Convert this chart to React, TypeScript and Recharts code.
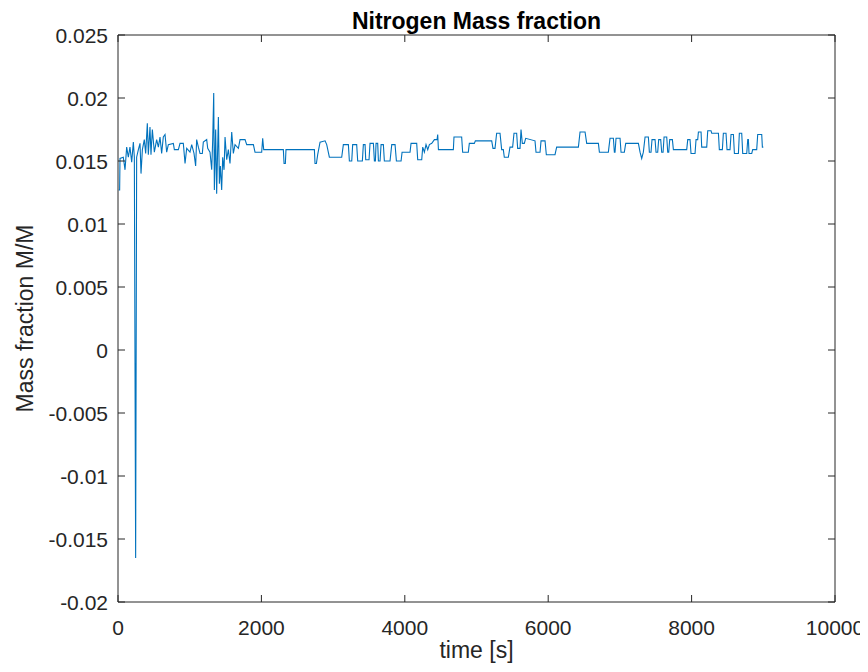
import React from "react";
import { LineChart, Line, XAxis, YAxis, Label } from "recharts";

const title = "Nitrogen Mass fraction";
const xLabel = "time [s]";
const yLabel = "Mass fraction M/M";

const xTicks = [0, 2000, 4000, 6000, 8000, 10000];
const xTickLabels = ["0", "2000", "4000", "6000", "8000", "10000"];
const yTicks = [-0.02, -0.015, -0.01, -0.005, 0, 0.005, 0.01, 0.015, 0.02, 0.025];
const yTickLabels = ["-0.02", "-0.015", "-0.01", "-0.005", "0", "0.005", "0.01", "0.015", "0.02", "0.025"];

const timeS = [
  10, 23, 28, 74, 98, 121, 144, 167, 191, 214, 228, 246, 260, 284, 307, 321, 340, 367, 386, 409,
  423, 446, 460, 479, 507, 539, 563, 586, 609, 632, 656, 679, 702, 772, 786, 842, 865, 911, 935, 958,
  1004, 1028, 1060, 1083, 1097, 1121, 1144, 1176, 1190, 1237, 1251, 1283, 1307, 1321, 1335, 1344, 1362, 1376, 1400, 1414,
  1428, 1446, 1460, 1479, 1493, 1516, 1539, 1562, 1586, 1609, 1632, 1679, 1702, 1772, 1795, 1888, 1911, 2004, 2018, 2032,
  2306, 2316, 2334, 2343, 2739, 2748, 2767, 2785, 2818, 2888, 2911, 2948, 3120, 3143, 3213, 3227, 3260, 3273, 3329, 3343,
  3408, 3422, 3446, 3455, 3501, 3515, 3562, 3576, 3590, 3599, 3622, 3632, 3655, 3669, 3701, 3715, 3794, 3818, 3864, 3883,
  3948, 3962, 4073, 4087, 4166, 4180, 4236, 4250, 4273, 4296, 4320, 4343, 4376, 4413, 4450, 4459, 4469,
  4677, 4686, 4793, 4807, 4886, 4900, 4970, 4984, 5212, 5230, 5258, 5281, 5328, 5351, 5374, 5388, 5444, 5467, 5504, 5523,
  5560, 5574, 5607, 5621, 5639, 5667, 5686, 5816, 5830, 5886, 5900, 5956, 5974, 6095, 6118, 6421, 6444, 6514, 6537, 6700, 6714,
  6839, 6862, 6909, 6923, 6932, 6946, 7002, 7016, 7062, 7081, 7258, 7281, 7304, 7327, 7351, 7397, 7411, 7434, 7448, 7490,
  7504, 7527, 7541, 7569, 7583, 7602, 7616, 7653, 7667, 7681, 7695, 7732, 7746, 7932, 7946, 7978, 7992, 8048, 8062, 8085,
  8095, 8132, 8141, 8211, 8225, 8271, 8281, 8374, 8387, 8429, 8443, 8480, 8494, 8536, 8550, 8583, 8597, 8653, 8666, 8699,
  8713, 8769, 8783, 8792, 8801, 8839, 8852, 8908, 8922, 8978, 8987, 9000,
];

const massFraction = [
  0.0127, 0.0127, 0.0152, 0.0153, 0.0143, 0.0161, 0.0153, 0.0161, 0.0149, 0.0165, 0.0153, -0.0165, 0.0153, 0.0159, 0.0164, 0.014, 0.0159, 0.0167, 0.0156, 0.018,
  0.0155, 0.0177, 0.0155, 0.0175, 0.0157, 0.0167, 0.0161, 0.0169, 0.0156, 0.0169, 0.0171, 0.0157, 0.0163, 0.0164, 0.0159, 0.0159, 0.0164, 0.0164, 0.0148, 0.016,
  0.0157, 0.0163, 0.0156, 0.0146, 0.0167, 0.0161, 0.0156, 0.0156, 0.0165, 0.0167, 0.016, 0.0157, 0.0143, 0.0167, 0.0204, 0.0127, 0.0175, 0.0124, 0.0185, 0.0132,
  0.0146, 0.0127, 0.0153, 0.0143, 0.0169, 0.0151, 0.0159, 0.0148, 0.0173, 0.0156, 0.0163, 0.016, 0.0167, 0.0167, 0.0163, 0.0163, 0.0157, 0.0157, 0.0168, 0.0159,
  0.0159, 0.0148, 0.0148, 0.0159, 0.0159, 0.0148, 0.0148, 0.0155, 0.0165, 0.0166, 0.0163, 0.0153, 0.0153, 0.0163, 0.0163, 0.015, 0.015, 0.0163, 0.0163, 0.015,
  0.015, 0.0163, 0.0163, 0.0151, 0.0151, 0.0164, 0.0164, 0.015, 0.015, 0.0164, 0.0164, 0.015, 0.015, 0.0163, 0.0163, 0.015, 0.015, 0.0163, 0.0163, 0.015,
  0.015, 0.0157, 0.0157, 0.0164, 0.0164, 0.0151, 0.0151, 0.0161, 0.0157, 0.0163, 0.0159, 0.0163, 0.0164, 0.0167, 0.0167, 0.0171, 0.0159,
  0.0159, 0.0169, 0.0169, 0.0157, 0.0157, 0.0164, 0.0164, 0.0166, 0.0166, 0.016, 0.016, 0.0172, 0.0172, 0.0159, 0.0159, 0.0153, 0.0153, 0.0161, 0.0161, 0.0172,
  0.0172, 0.016, 0.016, 0.0175, 0.0164, 0.0164, 0.0168, 0.0166, 0.0157, 0.0157, 0.0166, 0.0166, 0.0155, 0.0155, 0.0161, 0.0161, 0.0173, 0.0173, 0.0164, 0.0164, 0.0157,
  0.0157, 0.0168, 0.0168, 0.0157, 0.0157, 0.0168, 0.0168, 0.0157, 0.0157, 0.0164, 0.0164, 0.0157, 0.0152, 0.0157, 0.0169, 0.0169, 0.0157, 0.0157, 0.0167, 0.0167,
  0.0157, 0.0157, 0.0167, 0.0167, 0.0157, 0.0157, 0.0169, 0.0169, 0.0157, 0.0157, 0.0167, 0.0167, 0.0159, 0.0159, 0.0167, 0.0167, 0.0156, 0.0156, 0.0167, 0.0167,
  0.0173, 0.0173, 0.0161, 0.0161, 0.0174, 0.0174, 0.0172, 0.0172, 0.0159, 0.0159, 0.0172, 0.0172, 0.0159, 0.0159, 0.0171, 0.0171, 0.0156, 0.0156, 0.0172, 0.0172,
  0.0156, 0.0156, 0.0167, 0.0167, 0.0156, 0.0156, 0.0159, 0.0159, 0.0171, 0.0171, 0.0161, 0.0161,
];

const data = timeS.map((t, i) => ({ t, v: massFraction[i] }));

const AX = "#262626";
const FONT = "'Liberation Sans', Arial, Helvetica, sans-serif";
const TICK = 7;

const BottomTick = (props: any) => {
  const { x, y, payload } = props;
  const label = xTickLabels[xTicks.indexOf(payload.value)] ?? String(payload.value);
  return (
    <g>
      <line x1={x} x2={x} y1={y} y2={y - TICK} stroke={AX} strokeWidth={1} />
      <text x={x} y={y + 33} textAnchor="middle" fill={AX} fontSize={21} fontFamily={FONT}>
        {label}
      </text>
    </g>
  );
};

const TopTick = (props: any) => {
  const { x, y } = props;
  return <line x1={x} x2={x} y1={y} y2={y + TICK} stroke={AX} strokeWidth={1} />;
};

const LeftTick = (props: any) => {
  const { x, y, payload } = props;
  const label = yTickLabels[yTicks.indexOf(payload.value)] ?? String(payload.value);
  return (
    <g>
      <line x1={x} x2={x + TICK} y1={y} y2={y} stroke={AX} strokeWidth={1} />
      <text x={x - 10} y={y} dy="0.36em" textAnchor="end" fill={AX} fontSize={21} fontFamily={FONT}>
        {label}
      </text>
    </g>
  );
};

const RightTick = (props: any) => {
  const { x, y } = props;
  return <line x1={x} x2={x - TICK} y1={y} y2={y} stroke={AX} strokeWidth={1} />;
};

export default function App() {
  return (
    <LineChart
      width={860}
      height={656}
      data={data}
      margin={{ top: 26, right: 32, left: 0, bottom: 0 }}
      style={{ overflow: "visible" }}
    >
      <XAxis
        xAxisId="b"
        dataKey="t"
        type="number"
        domain={[0, 10000]}
        ticks={xTicks}
        interval={0}
        allowDataOverflow
        height={62}
        tickSize={0}
        tickMargin={0}
        tickLine={false}
        axisLine={{ stroke: AX, strokeWidth: 1 }}
        tick={<BottomTick />}
      >
        <Label
          value={xLabel}
          position="insideBottom"
          offset={6}
          style={{ fill: AX, fontSize: 23, fontFamily: FONT }}
        />
      </XAxis>
      <XAxis
        xAxisId="t"
        orientation="top"
        dataKey="t"
        type="number"
        domain={[0, 10000]}
        ticks={xTicks}
        interval={0}
        allowDataOverflow
        height={1}
        tickSize={0}
        tickMargin={0}
        tickLine={false}
        axisLine={{ stroke: AX, strokeWidth: 1 }}
        tick={<TopTick />}
      >
        <Label
          value={title}
          position="top"
          offset={5}
          style={{ fill: "#000", fontSize: 23, fontWeight: "bold", fontFamily: FONT }}
        />
      </XAxis>
      <YAxis
        yAxisId="l"
        type="number"
        domain={[-0.02, 0.025]}
        ticks={yTicks}
        interval={0}
        allowDataOverflow
        width={110}
        tickSize={0}
        tickMargin={0}
        tickLine={false}
        axisLine={{ stroke: AX, strokeWidth: 1 }}
        tick={<LeftTick />}
      >
        <Label
          value={yLabel}
          angle={-90}
          position="insideLeft"
          offset={17}
          style={{ fill: AX, fontSize: 23, fontFamily: FONT, textAnchor: "middle" }}
        />
      </YAxis>
      <YAxis
        yAxisId="r"
        orientation="right"
        type="number"
        domain={[-0.02, 0.025]}
        ticks={yTicks}
        interval={0}
        allowDataOverflow
        width={1}
        tickSize={0}
        tickMargin={0}
        tickLine={false}
        axisLine={{ stroke: AX, strokeWidth: 1 }}
        tick={<RightTick />}
      />
      <Line
        xAxisId="b"
        yAxisId="l"
        type="linear"
        dataKey="v"
        stroke="#0072BD"
        strokeWidth={1.1}
        dot={false}
        isAnimationActive={false}
      />
    </LineChart>
  );
}
